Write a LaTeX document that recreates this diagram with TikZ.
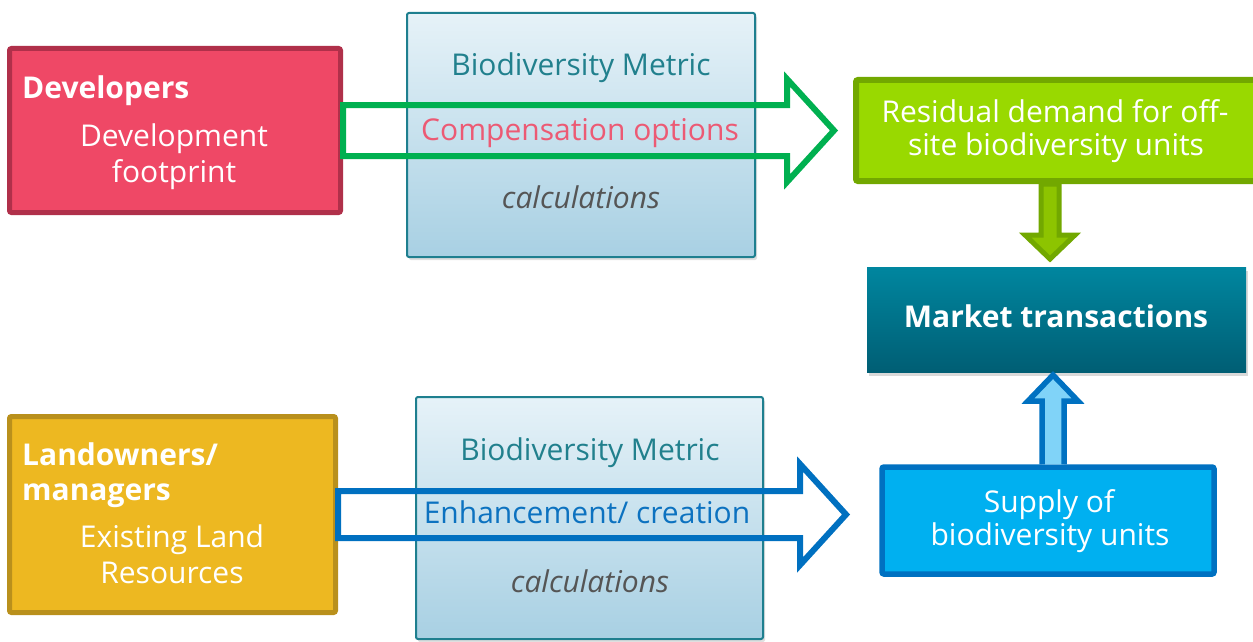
\documentclass[tikz,border=0pt]{standalone}
\usepackage{fontspec}
\setmainfont{Open Sans}
\usetikzlibrary{shadows,calc}
\definecolor{devfill}{HTML}{EF4866}
\definecolor{devline}{HTML}{B0304A}
\definecolor{landfill}{HTML}{EDB821}
\definecolor{landline}{HTML}{B9901C}
\definecolor{metline}{HTML}{1E7F8F}
\definecolor{mettop}{HTML}{E6F2F8}
\definecolor{metbot}{HTML}{A8D0E3}
\definecolor{tealtext}{HTML}{21808D}
\definecolor{pinktext}{HTML}{EC5A74}
\definecolor{greytext}{HTML}{555555}
\definecolor{bluetext}{HTML}{0C72C0}
\definecolor{garrowc}{HTML}{00B050}
\definecolor{barrowc}{HTML}{0070C0}
\definecolor{resfill}{HTML}{99D900}
\definecolor{resline}{HTML}{72A800}
\definecolor{downfill}{HTML}{8DC400}
\definecolor{mkttop}{HTML}{00869F}
\definecolor{mktbot}{HTML}{005E74}
\definecolor{supfill}{HTML}{00B0F0}
\definecolor{supline}{HTML}{0071C1}
\definecolor{upfill}{HTML}{80D3F8}
\tikzset{
  txt/.style={font=\fontsize{30}{36}\selectfont, inner sep=0pt, anchor=base},
  boldtxt/.style={txt, font=\fontsize{30}{36}\selectfont\bfseries},
  box/.style={rectangle, inner sep=0pt, rounded corners=2pt},
  metbox/.style={box, draw=metline, line width=2pt, top color=mettop, bottom color=metbot,
     drop shadow={shadow xshift=2pt, shadow yshift=-3pt, opacity=0.25}},
  outarrow/.style={line width=6pt, line join=miter},
}
\begin{document}
\begin{tikzpicture}[x=1pt,y=-1pt]
\useasboundingbox (0,0) rectangle (1253,642);

% boxes
\node[box, draw=devline, fill=devfill, line width=5pt, minimum width=331pt, minimum height=164pt] (dev) at (175,130.5) {};
\node[box, draw=landline, fill=landfill, line width=5pt, minimum width=326pt, minimum height=196pt] (land) at (172.5,514.5) {};
\node[metbox, minimum width=348pt, minimum height=244pt] (met1) at (581,135) {};
\node[metbox, minimum width=347pt, minimum height=242pt] (met2) at (589.5,518) {};
\node[box, draw=resline, fill=resfill, line width=6pt, minimum width=410pt, minimum height=101pt] (res) at (1061,130.5) {};
\node[rectangle, inner sep=0pt, top color=mkttop, bottom color=mktbot, minimum width=379pt, minimum height=105pt,
   drop shadow={shadow xshift=2pt, shadow yshift=-4pt, opacity=0.3}] (mkt) at (1056.5,319.5) {};
\node[box, draw=supline, fill=supfill, line width=5.5pt, minimum width=332pt, minimum height=107pt] (sup) at (1048,520.5) {};

% named arrow end points
\coordinate (gtail) at (dev.east |- 0,130.5);
\coordinate (btail) at (land.east |- 0,514.5);
\coordinate (dtop) at (res.south -| 1050,0);
\coordinate (ubot) at (sup.north -| 1053,0);

% green outline arrow
\draw[outarrow, draw=garrowc] ($(gtail)+(0,-25.5)$) -- (787,105) -- (787,79) -- (834,130.5) -- (787,182) -- (787,156) -- ($(gtail)+(0,25.5)$) -- cycle;
% blue outline arrow
\draw[outarrow, draw=barrowc] ($(btail)+(0,-23.5)$) -- (800,491) -- (800,464) -- (846,514.5) -- (800,565) -- (800,538) -- ($(btail)+(0,23.5)$) -- cycle;
% down arrow (residual -> market)
\draw[draw=resline, fill=downfill, line width=5pt, line join=miter] ($(dtop)+(-9,0)$) -- (1041,235) -- (1025,235) -- (1050,259) -- (1075,235) -- (1059,235) -- ($(dtop)+(9,0)$) -- cycle;
% up arrow (supply -> market)
\draw[draw=supline, fill=upfill, line width=5.5pt, line join=miter] ($(ubot)+(-11,0)$) -- (1042,401) -- (1028,401) -- (1053,375) -- (1078,401) -- (1064,401) -- ($(ubot)+(11,0)$);

% texts
\node[boldtxt, text=white, anchor=base west] (devt) at (22,99) {Developers};
\node[txt, text=white] (devt2) at (174,146) {Development};
\node[txt, text=white] (devt3) at (174,182) {footprint};

\node[boldtxt, text=white, anchor=base west] (landt) at (22,465) {Landowners/};
\node[boldtxt, text=white, anchor=base west] (landt2) at (22,500) {managers};
\node[txt, text=white] (landt3) at (172,547) {Existing Land};
\node[txt, text=white] (landt4) at (172,583) {Resources};

\node[txt, text=tealtext] (m1a) at (581,76) {Biodiversity Metric};
\node[txt, text=pinktext] (m1b) at (580,140) {Compensation options};
\node[txt, text=greytext, font=\fontsize{30}{36}\selectfont\itshape] (m1c) at (581,208) {calculations};

\node[txt, text=tealtext] (m2a) at (590,460) {Biodiversity Metric};
\node[txt, text=bluetext] (m2b) at (587,523) {Enhancement/ creation};
\node[txt, text=greytext, font=\fontsize{30}{36}\selectfont\itshape] (m2c) at (590,592) {calculations};

\node[txt, text=white] (rt1) at (1055,122) {Residual demand for off-};
\node[txt, text=white] (rt2) at (1056,155) {site biodiversity units};
\node[boldtxt, text=white] (mt) at (1056,327) {Market transactions};
\node[txt, text=white] (st1) at (1049,512) {Supply of};
\node[txt, text=white] (st2) at (1050,545) {biodiversity units};
\end{tikzpicture}
\end{document}
